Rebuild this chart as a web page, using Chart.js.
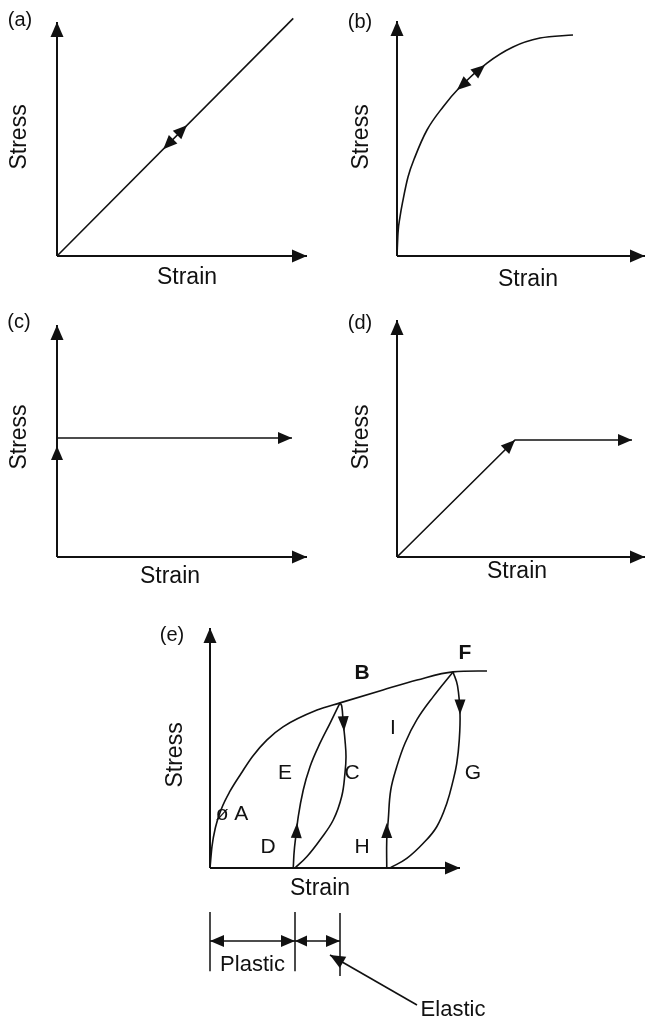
<!DOCTYPE html>
<html>
<head>
<meta charset="UTF-8">
<title>Stress - Strain</title>
<style>
  body { margin: 0; background: #fff; }
  #wrap { position: relative; width: 646px; height: 1020px; }
  #wrap canvas { position: absolute; }
</style>
</head>
<body>
<div id="wrap"></div>

<script src="https://cdn.jsdelivr.net/npm/chart.js"></script>
<script>
// ---------------- data (arbitrary units, axes run 0..10) ----------------
const tags = ['(a)', '(b)', '(c)', '(d)', '(e)'];
const xTitle = 'Strain';
const yTitle = 'Stress';

// where each axis arrow ends
const axisStrain = [10, 9.92, 10, 9.92, 10];
const axisStress = [9.75, 9.79, 9.67, 9.88, 10];

// (a) linear
const aStrain = [0, 9.45];
const aStress = [0, 9.9];

// (b) non-linear
const bStrain = [0, 0.04, 0.12, 0.24, 0.44, 0.72, 1.2, 1.84, 2.52, 3.6, 4.64, 5.72, 7.04];
const bStress = [0, 0.96, 1.63, 2.33, 3.29, 4.13, 5.25, 6.21, 7.04, 8.04, 8.71, 9.08, 9.21];

// (c) rigid - perfectly plastic
const cStrain = [0, 9.4];
const cStress = [4.96, 4.96];

// (d) elastic - perfectly plastic
const dStrain = [0, 4.72, 9.4];
const dStress = [0, 4.875, 4.875];

// (e) loading envelope and two unload / reload loops
const envStrain = [0, 0.08, 0.22, 0.45, 0.8, 1.25, 1.7, 2.27, 2.92, 4.28, 5.2, 6.92, 8.28, 9.72, 11.08];
const envStress = [0, 0.9, 1.7, 2.45, 3.2, 3.95, 4.65, 5.33, 5.88, 6.58, 6.88, 7.42, 7.83, 8.17, 8.21];

const unload1Strain = [5.2, 5.27, 5.33, 5.4, 5.44, 5.4, 5.27, 4.93, 4.4, 3.87, 3.4];
const unload1Stress = [6.88, 6.74, 6.04, 5.33, 4.64, 3.96, 2.99, 2.0, 1.17, 0.47, 0];
const reload1Strain = [3.33, 3.36, 3.43, 3.53, 3.73, 4.0, 4.4, 4.8, 5.2];
const reload1Stress = [0, 0.6, 1.3, 2.14, 3.25, 4.22, 5.2, 6.03, 6.88];

const unload2Strain = [9.72, 9.9, 10, 9.97, 9.87, 9.73, 9.47, 9.07, 8.53, 7.87, 7.2];
const unload2Stress = [8.17, 7.6, 6.44, 5.33, 4.36, 3.67, 2.69, 1.72, 1.03, 0.4, 0];
const reload2Strain = [7.07, 7.07, 7.13, 7.23, 7.47, 7.8, 8.27, 8.93, 9.72];
const reload2Stress = [0, 1.17, 2.0, 3.25, 4.22, 5.2, 6.17, 7.14, 8.17];

const letters = ['B', 'F', 'I', 'E', 'C', 'G', 'ø A', 'D', 'H'];
const letterStrain = [6.08, 10.2, 7.32, 3.0, 5.68, 10.52, 0.88, 2.32, 6.08];
const letterStress = [8.12, 8.96, 5.83, 3.96, 3.96, 3.96, 2.25, 0.875, 0.875];

const dimLabels = ['Plastic', 'Elastic'];

// arrows on the curves: [tipStrain, tipStress, fromStrain, fromStress]
const aArrows = [[5.2, 5.45, 4.6, 4.83], [4.25, 4.45, 4.85, 5.08]];
const bArrows = [[3.52, 7.96, 3.0, 7.5], [2.4, 6.92, 2.95, 7.42]];
const cArrows = [[9.4, 4.96, 8.4, 4.96], [0, 4.63, 0, 3.6]];
const dArrows = [[4.72, 4.875, 4.1, 4.24], [9.4, 4.875, 8.4, 4.875]];
const eArrows = [[3.48, 1.875, 3.44, 1.0], [7.07, 1.875, 7.07, 1.0],
                 [5.36, 5.7, 5.32, 6.5], [10, 6.4, 10, 7.5]];

// ---------------- layout ----------------
const INK = '#111';
const FONT = '"Liberation Sans", Arial, sans-serif';
const KX = 25, KY = 24;          // pixels per unit

const panels = [
  { box: [0, 0, 323, 300],   origin: [57, 256],
    title: [5.2, -0.92], ylab: [-1.48, 4.96], tag: [-1.48, 9.83] },
  { box: [323, 0, 323, 300], origin: [397, 256],
    title: [5.24, -1.0], ylab: [-1.4, 4.96], tag: [-1.48, 9.75] },
  { box: [0, 300, 323, 300], origin: [57, 557],
    title: [4.52, -0.83], ylab: [-1.48, 5.0], tag: [-1.52, 9.79] },
  { box: [323, 300, 323, 300], origin: [397, 557],
    title: [4.8, -0.625], ylab: [-1.4, 5.0], tag: [-1.48, 9.75] },
  { box: [0, 600, 646, 420], origin: [210, 868],
    title: [4.4, -0.875], ylab: [-1.36, 4.71], tag: [-1.52, 9.67] }
];

function pts(xs, ys) {
  return xs.map((x, i) => ({ x: x, y: ys[i] }));
}

function line(xs, ys, w, smooth) {
  const ds = {
    data: pts(xs, ys),
    showLine: true,
    pointRadius: 0,
    borderColor: INK,
    borderWidth: w,
    tension: 0,
    clip: false,
    fill: false
  };
  if (smooth === 'mono') ds.cubicInterpolationMode = 'monotone';
  else if (smooth) ds.tension = smooth;
  return ds;
}

// draws arrowheads and labels using the chart scales
const sketch = {
  id: 'sketch',
  afterDatasetsDraw(chart) {
    const extra = chart.config.options.extra;
    const ctx = chart.ctx;
    const sx = chart.scales.x, sy = chart.scales.y;
    const px = v => sx.getPixelForValue(v);
    const py = v => sy.getPixelForValue(v);
    ctx.save();
    ctx.fillStyle = INK;
    extra.arrows.forEach(a => {
      const tx = px(a[0]), ty = py(a[1]);
      const ang = Math.atan2(ty - py(a[3]), tx - px(a[2]));
      const len = a[4] || 14, hw = a[5] || 6;
      const bx = tx - len * Math.cos(ang), by = ty - len * Math.sin(ang);
      ctx.beginPath();
      ctx.moveTo(tx, ty);
      ctx.lineTo(bx + hw * Math.sin(ang), by - hw * Math.cos(ang));
      ctx.lineTo(bx - hw * Math.sin(ang), by + hw * Math.cos(ang));
      ctx.closePath();
      ctx.fill();
    });
    ctx.textAlign = 'center';
    ctx.textBaseline = 'middle';
    extra.notes.forEach(n => {
      ctx.font = (n.bold ? 'bold ' : '') + (n.size || 21) + 'px ' + FONT;
      ctx.save();
      ctx.translate(px(n.x), py(n.y));
      if (n.rot) ctx.rotate(-Math.PI / 2);
      ctx.fillText(n.text, 0, 0);
      ctx.restore();
    });
    ctx.restore();
  }
};

function makePanel(i, curves, arrows, notes) {
  const p = panels[i];
  const [L, T, W, H] = p.box;
  const [ox, oy] = p.origin;
  const cv = document.createElement('canvas');
  cv.width = W; cv.height = H;
  cv.style.left = L + 'px'; cv.style.top = T + 'px';
  document.getElementById('wrap').appendChild(cv);

  // axes with arrowheads
  const xt = axisStrain[i], yt = axisStress[i];
  const datasets = [line([0, xt], [0, 0], 2), line([0, 0], [0, yt], 2)].concat(curves);
  const allArrows = [[xt, 0, xt - 1, 0, 15, 6.5], [0, yt, 0, yt - 1, 15, 6.5]].concat(arrows);

  const allNotes = [
    { text: xTitle, x: p.title[0], y: p.title[1], size: 23 },
    { text: yTitle, x: p.ylab[0], y: p.ylab[1], rot: true, size: 23 },
    { text: tags[i], x: p.tag[0], y: p.tag[1], size: 20 }
  ].concat(notes || []);

  new Chart(cv, {
    type: 'scatter',
    data: { datasets: datasets },
    options: {
      responsive: false,
      animation: false,
      events: [],
      layout: { padding: 0 },
      scales: {
        x: { type: 'linear', display: false, min: -(ox - L) / KX, max: (L + W - ox) / KX },
        y: { type: 'linear', display: false, min: -(T + H - oy) / KY, max: (oy - T) / KY }
      },
      plugins: { legend: { display: false }, tooltip: { enabled: false } },
      extra: { arrows: allArrows, notes: allNotes }
    },
    plugins: [sketch]
  });
}

// (a)
makePanel(0, [line(aStrain, aStress, 1.6)], aArrows.map(a => a.concat([14, 6])));
// (b)
makePanel(1, [line(bStrain, bStress, 1.6, 'mono')], bArrows.map(a => a.concat([14, 6])));
// (c)
makePanel(2, [line(cStrain, cStress, 1.6)], cArrows);
// (d)
makePanel(3, [line(dStrain, dStress, 1.6)], dArrows.map((a, k) => k === 0 ? a.concat([14, 6]) : a));

// (e) with the plastic / elastic dimension under the axis
const residual = unload1Strain[unload1Strain.length - 1];
const peak = unload1Strain[0];
const dimY = -3.04, tickTop = -1.83, tickBot = -4.3;
const eCurves = [
  line(envStrain, envStress, 1.6, 'mono'),
  line(unload1Strain, unload1Stress, 1.6, 0.4),
  line(reload1Strain, reload1Stress, 1.6, 'mono'),
  line(unload2Strain, unload2Stress, 1.6, 0.4),
  line(reload2Strain, reload2Stress, 1.6, 0.4),
  line([0, 0], [tickTop, tickBot], 1.5),
  line([residual, residual], [tickTop, tickBot], 1.5),
  line([peak, peak], [tickTop - 0.05, tickBot - 0.2], 1.5),
  line([0, peak], [dimY, dimY], 1.5),
  line([8.28, 4.8], [-5.71, -3.625], 1.6)
];
const eDimArrows = [
  [0, dimY, 1, dimY, 14, 6], [residual, dimY, residual - 1, dimY, 14, 6],
  [residual, dimY, residual + 1, dimY, 12, 5.5], [peak, dimY, peak - 1, dimY, 14, 6],
  [4.8, -3.625, 5.8, -4.225, 15, 6.5]
];
const eNotes = letters.map((t, k) => ({
  text: t, x: letterStrain[k], y: letterStress[k], bold: t === 'B' || t === 'F'
})).concat([
  { text: dimLabels[0], x: residual / 2, y: -4.04, size: 22 },
  { text: dimLabels[1], x: 9.72, y: -5.92, size: 22 }
]);
makePanel(4, eCurves, eArrows.map(a => a.concat([15, 5.5])).concat(eDimArrows), eNotes);
</script>
</body>
</html>
